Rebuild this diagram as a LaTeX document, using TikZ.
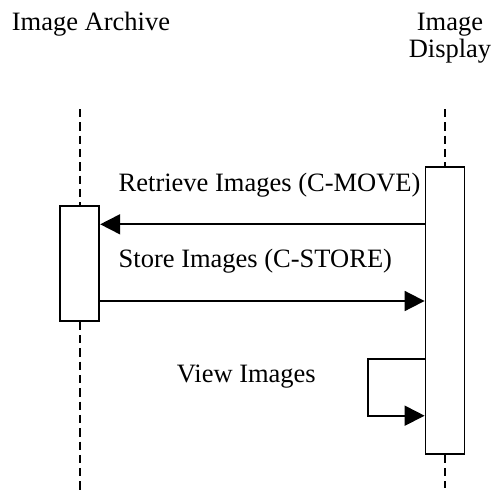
\documentclass[tikz,border=0pt]{standalone}
\usepackage{fontspec}
\setmainfont{Liberation Serif}
\usetikzlibrary{arrows.meta}
\begin{document}
\begin{tikzpicture}[x=1pt,y=-1pt,
  lbl/.style={inner sep=0pt,font=\fontsize{26.5}{28}\selectfont},
  actbox/.style={draw,line width=1.8pt,fill=white,inner sep=0pt,minimum width=39pt},
  lifeline/.style={line width=1.8pt,dash pattern=on 8.3pt off 5pt},
  msg/.style={line width=1.8pt,-{Triangle[length=20pt,width=20pt]}}]
\useasboundingbox (0,0) rectangle (496,491);
% lifelines
\coordinate (atop) at (79.8,109);
\coordinate (abot) at (79.8,491);
\coordinate (dtop) at (445,109);
\coordinate (dbot) at (445,488);
\draw[lifeline] (atop) -- (abot);
\draw[lifeline] (dtop) -- (dbot);
% activation boxes
\node[actbox,minimum height=115pt] (abox) at (79.8,263.2) {};
\node[actbox,minimum height=287pt] (dbox) at (445,310.8) {};
% headers
\node[lbl,anchor=base west] (arch) at (11.7,30) {Image Archive};
\node[lbl,anchor=base,align=center] (disp1) at (450,30) {Image};
\node[lbl,anchor=base,align=center] (disp2) at (450,57.5) {Display};
% messages
\coordinate (r1) at (dbox.west |- 0,224.3);
\coordinate (r2) at (abox.east |- 0,224.3);
\draw[msg] (r1) -- (r2);
\node[lbl,anchor=base west] (rlab) at (118.5,191.7) {Retrieve Images (C-MOVE)};
\coordinate (s1) at (abox.east |- 0,301);
\coordinate (s2) at (dbox.west |- 0,301);
\draw[msg] (s1) -- (s2);
\node[lbl,anchor=base west] (slab) at (118.5,267) {Store Images (C-STORE)};
\coordinate (v1) at (dbox.west |- 0,359);
\coordinate (v2) at (dbox.west |- 0,415.7);
\coordinate (vl) at (367.7,359);
\draw[msg] (v1) -- (vl) |- (v2);
\node[lbl,anchor=base east] (vlab) at (316,382) {View Images};
\end{tikzpicture}
\end{document}
